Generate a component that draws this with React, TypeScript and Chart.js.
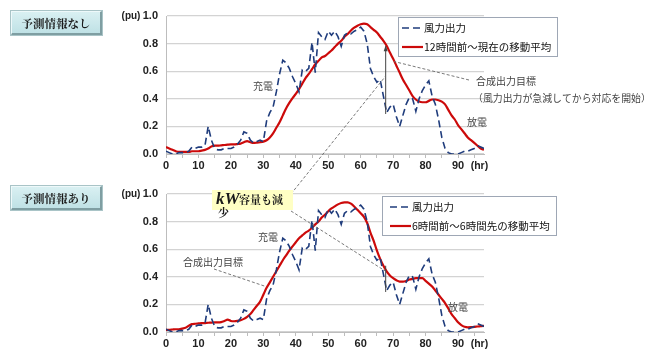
import React, { useEffect, useRef } from 'react';
import { Chart, registerables } from 'chart.js';

Chart.register(...registerables);

// ---- data ----
const HOURS = [
  0, 1, 2, 3, 4, 5, 6, 7, 8, 9,
  10, 11, 12, 13, 14, 15, 16, 17, 18, 19,
  20, 21, 22, 23, 24, 25, 26, 27, 28, 29,
  30, 31, 32, 33, 34, 35, 36, 37, 38, 39,
  40, 41, 42, 43, 44, 45, 46, 47, 48, 49,
  50, 51, 52, 53, 54, 55, 56, 57, 58, 59,
  60, 61, 62, 63, 64, 65, 66, 67, 68, 69,
  70, 71, 72, 73, 74, 75, 76, 77, 78, 79,
  80, 81, 82, 83, 84, 85, 86, 87, 88, 89,
  90, 91, 92, 93, 94, 95, 96, 97, 98,
];

const WIND = [
  0.02, 0.01, 0.0, 0.0, 0.01, 0.01, 0.01, 0.02, 0.05, 0.04,
  0.05, 0.05, 0.06, 0.2, 0.1, 0.04, 0.03, 0.03, 0.04, 0.04,
  0.04, 0.05, 0.07, 0.1, 0.16, 0.15, 0.1, 0.08, 0.09, 0.1,
  0.09, 0.24, 0.3, 0.34, 0.45, 0.58, 0.68, 0.66, 0.62, 0.56,
  0.51, 0.45, 0.61, 0.6, 0.62, 0.81, 0.59, 0.88, 0.85, 0.83,
  0.89, 0.86, 0.89, 0.85, 0.78, 0.86, 0.88, 0.87, 0.89, 0.9,
  0.92, 0.89, 0.8, 0.62, 0.56, 0.52, 0.54, 0.42, 0.3, 0.34,
  0.36, 0.27, 0.2, 0.28, 0.36, 0.41, 0.4, 0.31, 0.4, 0.46,
  0.5, 0.53, 0.42, 0.36, 0.25, 0.12, 0.04, 0.01, 0.0, 0.0,
  0.0, 0.01, 0.02, 0.02, 0.03, 0.04, 0.06, 0.05, 0.04,
];

// 12時間前～現在の移動平均
const AVG_TRAILING = [
  0.05, 0.04, 0.03, 0.02, 0.015, 0.015, 0.015, 0.015, 0.02, 0.02,
  0.02, 0.025, 0.03, 0.04, 0.055, 0.06, 0.06, 0.063, 0.065, 0.068,
  0.07, 0.07, 0.072, 0.075, 0.085, 0.093, 0.085, 0.08, 0.082, 0.085,
  0.09, 0.1, 0.12, 0.15, 0.19, 0.23, 0.28, 0.33, 0.37, 0.405,
  0.435, 0.47, 0.51, 0.55, 0.58, 0.615, 0.65, 0.675, 0.7, 0.71,
  0.73, 0.75, 0.775, 0.8, 0.82, 0.85, 0.87, 0.895, 0.915, 0.93,
  0.94, 0.945, 0.94, 0.92, 0.9, 0.88, 0.85, 0.82, 0.785, 0.735,
  0.69, 0.64, 0.59, 0.54, 0.5, 0.46, 0.42, 0.395, 0.38, 0.375,
  0.375, 0.385, 0.395, 0.395, 0.39, 0.38, 0.36, 0.32, 0.28, 0.25,
  0.21, 0.18, 0.15, 0.12, 0.1, 0.08, 0.06, 0.04, 0.03,
];

// 6時間前～6時間先の移動平均
const AVG_CENTERED = [
  0.015, 0.015, 0.018, 0.02, 0.02, 0.025, 0.03, 0.045, 0.057, 0.06,
  0.062, 0.064, 0.065, 0.067, 0.068, 0.07, 0.07, 0.072, 0.08, 0.09,
  0.08, 0.078, 0.08, 0.085, 0.095, 0.11, 0.13, 0.16, 0.19, 0.22,
  0.27, 0.32, 0.36, 0.4, 0.44, 0.48, 0.52, 0.555, 0.59, 0.62,
  0.65, 0.68, 0.7, 0.72, 0.735, 0.755, 0.78, 0.8, 0.83, 0.85,
  0.875, 0.895, 0.91, 0.925, 0.935, 0.94, 0.94, 0.93, 0.91, 0.885,
  0.86, 0.835, 0.79, 0.72, 0.66, 0.59, 0.53, 0.48, 0.44, 0.41,
  0.39, 0.375, 0.365, 0.365, 0.37, 0.38, 0.385, 0.39, 0.39, 0.39,
  0.37, 0.35, 0.33, 0.3, 0.27, 0.24, 0.21, 0.17, 0.13, 0.1,
  0.07, 0.05, 0.038, 0.034, 0.035, 0.037, 0.04, 0.042, 0.045,
];

const X_TICKS = [0, 5, 10, 15, 20, 25, 30, 35, 40, 45, 50, 55, 60, 65, 70, 75, 80, 85, 90, 95];
const X_LABELED = [0, 10, 20, 30, 40, 50, 60, 70, 80, 90];
const Y_TICKS = [0, 0.2, 0.4, 0.6, 0.8, 1.0];
const X_UNIT = '(hr)';
const Y_UNIT = '(pu)';

const LABEL_WIND = '風力出力';
const LABEL_TRAILING = '12時間前～現在の移動平均';
const LABEL_CENTERED = '6時間前～6時間先の移動平均';
const PANEL_TOP = '予測情報なし';
const PANEL_BOTTOM = '予測情報あり';

// ---- style ----
const W = 658;
const H = 359;
const NAVY = '#1f3c7c';
const RED = '#cc0a0a';
const GRID = '#d3d3d3';
const AXIS = '#bdbdbd';
const TXT = '#222222';
const NOTE = '#444444';
const JP = '"Noto Sans CJK JP", sans-serif';
const LAT = '"Liberation Sans", Arial, sans-serif';

type Area = { left: number; right: number; top: number; bottom: number };

function txt(ctx: CanvasRenderingContext2D, s: string, x: number, y: number, font: string, color: string, align: CanvasTextAlign = 'left') {
  ctx.font = font;
  ctx.fillStyle = color;
  ctx.textAlign = align;
  ctx.textBaseline = 'middle';
  ctx.fillText(s, x, y);
}

function seg(ctx: CanvasRenderingContext2D, x1: number, y1: number, x2: number, y2: number, color: string, width: number, dash: number[] = []) {
  ctx.save();
  ctx.strokeStyle = color;
  ctx.lineWidth = width;
  ctx.setLineDash(dash);
  ctx.beginPath();
  ctx.moveTo(x1, y1);
  ctx.lineTo(x2, y2);
  ctx.stroke();
  ctx.restore();
}

function legend(ctx: CanvasRenderingContext2D, x: number, y: number, w: number, h: number, avgLabel: string, sx: number, tx: number) {
  ctx.save();
  ctx.fillStyle = '#ffffff';
  ctx.fillRect(x, y, w, h);
  ctx.strokeStyle = '#9ea7b5';
  ctx.lineWidth = 1;
  ctx.strokeRect(x + 0.5, y + 0.5, w - 1, h - 1);
  const r1 = y + 11;
  const r2 = y + 30;
  seg(ctx, sx, r1, sx + 20, r1, NAVY, 1.6, [7, 4]);
  seg(ctx, sx, r2, sx + 21, r2, RED, 2.2);
  txt(ctx, LABEL_WIND, tx, r1, `10.5px ${JP}`, '#111', 'left');
  txt(ctx, avgLabel, tx, r2, `10.5px ${JP}`, '#111', 'left');
  ctx.restore();
}

function vArrow(ctx: CanvasRenderingContext2D, x: number, yTop: number, yBot: number) {
  seg(ctx, x, yTop, x, yBot, '#444', 1);
  ctx.save();
  ctx.fillStyle = '#444';
  ctx.beginPath();
  ctx.moveTo(x, yTop - 1);
  ctx.lineTo(x - 2, yTop + 5);
  ctx.lineTo(x + 2, yTop + 5);
  ctx.closePath();
  ctx.fill();
  ctx.restore();
}

function commonDecor(chart: any) {
  const ctx: CanvasRenderingContext2D = chart.ctx;
  const x = chart.scales.x;
  const y = chart.scales.y;
  txt(ctx, Y_UNIT, 131, y.getPixelForValue(1), `bold 10px ${LAT}`, TXT, 'center');
  txt(ctx, X_UNIT, x.getPixelForValue(96.6), x.top + 12, `bold 10.5px ${LAT}`, TXT, 'center');
}

function makeConfig(avg: number[], avgLabel: string, area: Area, decor: (c: any) => void) {
  return {
    type: 'line' as const,
    data: {
      datasets: [
        {
          label: LABEL_WIND,
          data: HOURS.map((h, i) => ({ x: h, y: WIND[i] })),
          borderColor: NAVY,
          borderWidth: 1.6,
          borderDash: [7, 4],
          pointRadius: 0,
          tension: 0,
          fill: false,
        },
        {
          label: avgLabel,
          data: HOURS.map((h, i) => ({ x: h, y: avg[i] })),
          borderColor: RED,
          borderWidth: 2.2,
          pointRadius: 0,
          cubicInterpolationMode: 'monotone' as const,
          fill: false,
        },
      ],
    },
    options: {
      animation: false as const,
      responsive: false,
      events: [],
      layout: {
        padding: { left: 0, right: W - area.right, top: area.top, bottom: H - area.bottom - 20 },
      },
      plugins: { legend: { display: false }, tooltip: { enabled: false }, title: { display: false } },
      scales: {
        x: {
          type: 'linear' as const,
          min: 0,
          max: 98,
          afterBuildTicks: (s: any) => {
            s.ticks = X_TICKS.map((v) => ({ value: v }));
          },
          afterFit: (s: any) => {
            s.height = 20;
          },
          grid: {
            display: true,
            drawOnChartArea: false,
            drawTicks: true,
            tickLength: 4,
            color: AXIS,
            tickColor: AXIS,
          },
          border: { display: true, color: AXIS, width: 1 },
          ticks: {
            autoSkip: false,
            maxRotation: 0,
            padding: 1,
            color: TXT,
            font: { family: '"Liberation Sans", Arial, sans-serif', size: 11, weight: 'bold' as const },
            callback: (v: any) => (X_LABELED.includes(Number(v)) ? String(v) : ''),
          },
        },
        y: {
          min: 0,
          max: 1,
          afterBuildTicks: (s: any) => {
            s.ticks = Y_TICKS.map((v) => ({ value: v }));
          },
          afterFit: (s: any) => {
            s.width = area.left;
          },
          grid: { color: GRID, lineWidth: 1.3, drawTicks: false },
          border: { display: true, color: AXIS, width: 1 },
          ticks: {
            padding: 8,
            color: TXT,
            font: { family: '"Liberation Sans", Arial, sans-serif', size: 11, weight: 'bold' as const },
            callback: (v: any) => Number(v).toFixed(1),
          },
        },
      },
    },
    plugins: [{ id: 'decor', afterDraw: (c: any) => decor(c) }],
  };
}

const TOP_AREA: Area = { left: 166, right: 484, top: 16, bottom: 154 };
const BOTTOM_AREA: Area = { left: 166, right: 484, top: 194, bottom: 332 };

function drawTop(chart: any) {
  const ctx: CanvasRenderingContext2D = chart.ctx;
  const x = chart.scales.x;
  const y = chart.scales.y;
  ctx.save();
  commonDecor(chart);
  legend(ctx, 398, 17, 160, 40, LABEL_TRAILING, 402, 424);
  // vertical gap between target and wind output
  vArrow(ctx, x.getPixelForValue(67.7), y.getPixelForValue(0.78), y.getPixelForValue(0.29));
  // 合成出力目標 callout
  seg(ctx, 469, 80, x.getPixelForValue(70.3), y.getPixelForValue(0.67), '#6a6a6a', 0.9, [3, 2]);
  txt(ctx, '合成出力目標', 476, 81, `10px ${JP}`, NOTE, 'left');
  txt(ctx, '（風力出力が急減してから対応を開始）', 473, 98, `9.9px ${JP}`, NOTE, 'left');
  txt(ctx, '充電', 263, 86, `10px ${JP}`, NOTE, 'center');
  txt(ctx, '放電', 477, 122, `10px ${JP}`, NOTE, 'center');
  ctx.restore();
}

function makeDrawBottom(topChart: any) {
  return (chart: any) => {
    const ctx: CanvasRenderingContext2D = chart.ctx;
    const x = chart.scales.x;
    const y = chart.scales.y;
    ctx.save();
    commonDecor(chart);
    legend(ctx, 382, 196, 175, 40, LABEL_CENTERED, 390, 412);
    seg(ctx, x.getPixelForValue(67.7), y.getPixelForValue(0.48), x.getPixelForValue(67.7), y.getPixelForValue(0.29), '#444', 1);
    // 合成出力目標 callout
    seg(ctx, 214, 269, x.getPixelForValue(30.7), y.getPixelForValue(0.33), '#6a6a6a', 0.9, [3, 2]);
    txt(ctx, '合成出力目標', 183, 262, `10px ${JP}`, NOTE, 'left');
    txt(ctx, '充電', 268, 237, `10px ${JP}`, NOTE, 'center');
    txt(ctx, '放電', 458, 307, `10px ${JP}`, NOTE, 'center');
    // kW box callouts
    seg(ctx, 291, 211, x.getPixelForValue(67.7), y.getPixelForValue(0.44), '#6a6a6a', 0.9, [3, 2]);
    if (topChart) {
      const tx = topChart.scales.x;
      const ty = topChart.scales.y;
      seg(ctx, 291, 194, tx.getPixelForValue(67.7), ty.getPixelForValue(0.565), '#6a6a6a', 0.9, [3, 2]);
    }
    ctx.fillStyle = '#ffffc4';
    ctx.fillRect(212, 190, 81, 20);
    txt(ctx, 'kW', 216, 200, `italic bold 17px "Liberation Serif", "DejaVu Serif", serif`, '#1a1a1a', 'left');
    txt(ctx, '容量も減', 239, 200, `bold 11px "Noto Serif CJK JP", ${JP}`, '#1a1a1a', 'left');
    txt(ctx, '少', 218, 213, `bold 11px "Noto Serif CJK JP", ${JP}`, '#1a1a1a', 'left');
    ctx.restore();
  };
}

const panelStyle = (top: number): React.CSSProperties => ({
  position: 'absolute',
  left: 11,
  top,
  width: 91,
  height: 24,
  boxSizing: 'border-box',
  background: 'linear-gradient(#d9f0f2, #bfe1e5)',
  borderTop: '1px solid #eef9fa',
  borderLeft: '1px solid #eef9fa',
  borderRight: '2px solid #7f9ea2',
  borderBottom: '2px solid #7f9ea2',
  boxShadow: '0 0 0 1px #a9c4c7',
  display: 'flex',
  alignItems: 'center',
  justifyContent: 'center',
  font: `bold 11.5px "Noto Serif CJK JP", ${JP}`,
  color: '#1a1a1a',
  letterSpacing: '0px',
});

export default function App() {
  const topRef = useRef<HTMLCanvasElement>(null);
  const botRef = useRef<HTMLCanvasElement>(null);

  useEffect(() => {
    const top = new Chart(topRef.current as HTMLCanvasElement, makeConfig(AVG_TRAILING, LABEL_TRAILING, TOP_AREA, drawTop) as any);
    const bottom = new Chart(
      botRef.current as HTMLCanvasElement,
      makeConfig(AVG_CENTERED, LABEL_CENTERED, BOTTOM_AREA, makeDrawBottom(top)) as any
    );
    return () => {
      bottom.destroy();
      top.destroy();
    };
  }, []);

  return (
    <div style={{ position: 'absolute', left: 0, top: 0, width: W, height: H, background: '#fff', overflow: 'hidden' }}>
      <canvas ref={topRef} width={W} height={H} style={{ position: 'absolute', left: 0, top: 0 }} />
      <canvas ref={botRef} width={W} height={H} style={{ position: 'absolute', left: 0, top: 0 }} />
      <div style={panelStyle(11)}>{PANEL_TOP}</div>
      <div style={panelStyle(186)}>{PANEL_BOTTOM}</div>
    </div>
  );
}
